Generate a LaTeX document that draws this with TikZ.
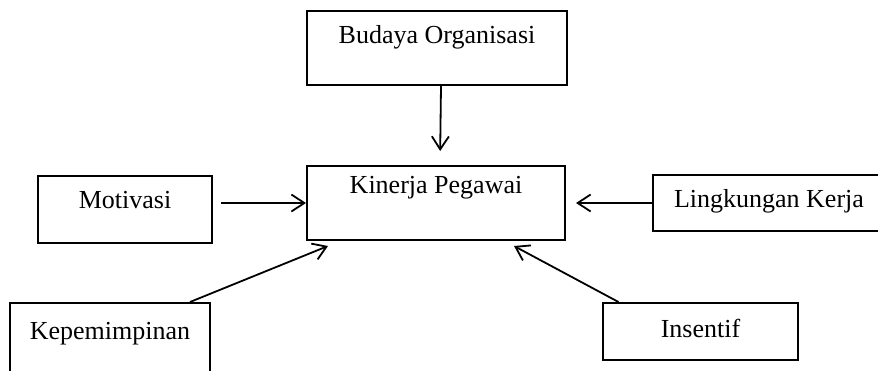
\documentclass[tikz,border=0pt]{standalone}
\usepackage{fontspec}
\setmainfont{Liberation Serif}
\usetikzlibrary{arrows.meta}

\begin{document}
\begin{tikzpicture}[
  x=0.5pt, y=-0.5pt,
  font=\fontsize{13}{15.5}\selectfont,
  kotak/.style={draw, line width=1pt, inner sep=0pt, align=center},
  panah/.style={-{Straight Barb[length=6.5pt, width=8.5pt]}, line width=0.9pt},
]
\useasboundingbox (0,0) rectangle (878,370);
\clip (0,0) rectangle (878,370);
% variabel terikat
\node[kotak, minimum width=129pt, minimum height=37pt, text height=13.5pt, text depth=23.5pt]
  (kinerja) at (436,203) {Kinerja Pegawai};
% variabel bebas
\node[kotak, minimum width=130pt, minimum height=37pt, text height=16pt, text depth=21pt]
  (budaya) at (437,48) {Budaya Organisasi};
\node[kotak, minimum width=87pt, minimum height=33.5pt, text height=16pt, text depth=17.5pt]
  (motivasi) at (125,209.5) {Motivasi};
\node[kotak, minimum width=116pt, minimum height=28pt, text height=16pt, text depth=12pt]
  (lingkungan) at (769,203) {Lingkungan Kerja};
\node[kotak, minimum width=100pt, minimum height=41pt, text height=18pt, text depth=23pt]
  (kepemimpinan) at (110,344) {Kepemimpinan};
\node[kotak, minimum width=97.5pt, minimum height=28.5pt, text height=17pt, text depth=11.5pt]
  (insentif) at (700.5,331.5) {Insentif};
% pengaruh
\draw[panah, shorten >=7pt] ([xshift=2pt]budaya.south) -- ([xshift=2pt]kinerja.north);
\draw[panah, shorten <=4pt] (motivasi.east |- kinerja.west) -- (kinerja.west);
\draw[panah, shorten >=5pt] (lingkungan.west) -- (kinerja.east |- lingkungan.west);
\draw[panah] ([xshift=40pt]kepemimpinan.north) -- ([xshift=-54pt, yshift=-2.5pt]kinerja.south);
\draw[panah] ([xshift=-41pt]insentif.north) -- ([xshift=39pt, yshift=-2.5pt]kinerja.south);
\end{tikzpicture}
\end{document}
